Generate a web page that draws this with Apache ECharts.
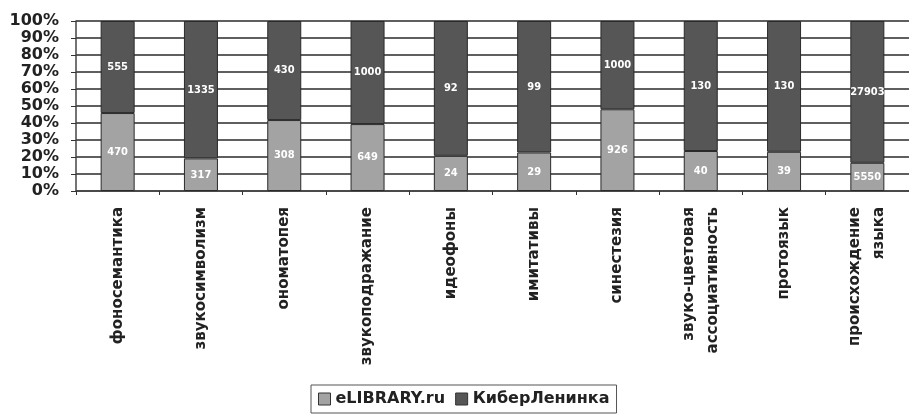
<!DOCTYPE html>
<html>
<head>
<meta charset="utf-8">
<script src="https://cdn.jsdelivr.net/npm/echarts@6/dist/echarts.min.js"></script>
<style>html,body{margin:0;padding:0;background:#fff;}#c{width:909px;height:418px;}</style>
</head>
<body>
<div id="c"></div>
<script>
const categories = ['фоносемантика','звукосимволизм','ономатопея','звукоподражание','идеофоны','имитативы','синестезия','звуко-цветовая\nассоциативность','протоязык','происхождение\nязыка'];
const elibrary = [470, 317, 308, 649, 24, 29, 926, 40, 39, 5550];
const cyberleninka = [555, 1335, 430, 1000, 92, 99, 1000, 130, 130, 27903];
const yTicks = ['0%','10%','20%','30%','40%','50%','60%','70%','80%','90%','100%'];

const totals = elibrary.map((v, i) => v + cyberleninka[i]);
const pct = (arr) => arr.map((v, i) => ({ value: v / totals[i] * 100, raw: v }));

const chart = echarts.init(document.getElementById('c'));
const labelStyle = {
  show: true, position: 'inside', color: '#fff', fontSize: 11,
  fontFamily: 'DejaVu Sans Condensed', fontWeight: 'bold',
  formatter: p => p.data.raw
};
chart.setOption({
  animation: false,
  backgroundColor: '#fff',
  grid: { left: 76, right: -9, top: 21, bottom: 227, containLabel: false },
  legend: {
    bottom: 5, left: 311,
    itemWidth: 12, itemHeight: 12, itemGap: 10,
    padding: [6, 7, 6, 7],
    borderColor: '#555', borderWidth: 1,
    textStyle: { fontFamily: 'DejaVu Sans', fontWeight: 'bold', fontSize: 16, color: '#222', padding: [0, 0, 0, 0] },
    data: [
      { name: 'eLIBRARY.ru', icon: 'rect', itemStyle: { borderColor: '#333', borderWidth: 1 } },
      { name: 'КиберЛенинка', icon: 'rect', itemStyle: { borderColor: '#333', borderWidth: 1 } }
    ]
  },
  xAxis: {
    type: 'category', data: categories,
    axisLine: { lineStyle: { color: '#444', width: 1.5 } },
    axisTick: { show: true, length: 4, lineStyle: { color: '#333' } },
    axisLabel: {
      rotate: 90, margin: 16, interval: 0,
      fontFamily: 'DejaVu Sans', fontWeight: 'bold', fontSize: 15, color: '#222',
      lineHeight: 24, align: 'right', verticalAlign: 'middle'
    }
  },
  yAxis: {
    type: 'value', min: 0, max: 100, interval: 10,
    axisLine: { show: true, lineStyle: { color: '#444', width: 1.5 } },
    axisTick: { show: true, length: 5, lineStyle: { color: '#333' } },
    splitLine: { lineStyle: { color: '#2a2a2a', width: 1.5 } },
    axisLabel: {
      margin: 17, fontFamily: 'DejaVu Sans', fontWeight: 'bold', fontSize: 16, color: '#222',
      formatter: v => yTicks[Math.round(v / 10)]
    }
  },
  series: [
    {
      name: 'eLIBRARY.ru', type: 'bar', stack: 'a', barWidth: 34,
      itemStyle: { color: '#a3a3a3', borderColor: '#2a2a2a', borderWidth: 1 },
      label: labelStyle, data: pct(elibrary)
    },
    {
      name: 'КиберЛенинка', type: 'bar', stack: 'a', barWidth: 34,
      itemStyle: { color: '#565656', borderColor: '#2a2a2a', borderWidth: 1 },
      label: labelStyle, data: pct(cyberleninka)
    }
  ]
});
</script>
</body>
</html>
